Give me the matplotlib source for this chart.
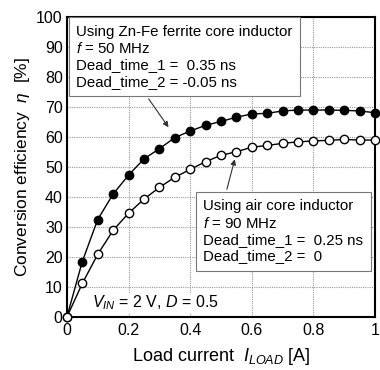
import numpy as np
import matplotlib
matplotlib.use('Agg')
import matplotlib.pyplot as plt

plt.rcParams['font.family'] = ['Liberation Sans', 'DejaVu Sans']
plt.rcParams['mathtext.fontset'] = 'custom'
plt.rcParams['mathtext.rm'] = 'Liberation Sans'
plt.rcParams['mathtext.it'] = 'Liberation Sans:italic'

# load current [A]
load_current = [0.0, 0.05, 0.1, 0.15, 0.2, 0.25, 0.3, 0.35, 0.4, 0.45, 0.5,
                0.55, 0.6, 0.65, 0.7, 0.75, 0.8, 0.85, 0.9, 0.95, 1.0]

# efficiency [%] - Zn-Fe ferrite core, 50 MHz
eff_ferrite = [0.0, 18.5, 32.5, 41.0, 47.3, 52.7, 56.1, 59.8, 62.0, 63.9, 65.2,
               66.6, 67.7, 67.9, 68.7, 69.0, 69.0, 69.0, 68.9, 68.7, 68.1]

# efficiency [%] - air core, 90 MHz
eff_air = [0.0, 11.2, 20.9, 28.9, 34.6, 39.3, 43.2, 46.6, 49.2, 51.8, 53.9,
           55.1, 56.6, 57.2, 57.9, 58.4, 58.7, 58.9, 59.2, 59.0, 59.0]

xticks = [0, 0.2, 0.4, 0.6, 0.8, 1]
xtick_labels = ['0', '0.2', '0.4', '0.6', '0.8', '1']
yticks = list(range(0, 101, 10))

fig = plt.figure(figsize=(3.8, 3.7), dpi=100)
ax = fig.add_axes([0.176, 0.143, 0.811, 0.811])

ax.plot(load_current, eff_ferrite, '-o', color='black', lw=1.0,
        ms=6, mfc='black', mec='black', zorder=3, clip_on=False)
ax.plot(load_current, eff_air, '-o', color='black', lw=1.0,
        ms=6, mfc='white', mec='black', mew=1.0, zorder=3, clip_on=False)

ax.set_xlim(0, 1)
ax.set_ylim(0, 100)
ax.set_xticks(xticks)
ax.set_xticklabels(xtick_labels)
ax.set_yticks(yticks)
ax.tick_params(labelsize=11.5, length=0, pad=4)
ax.tick_params(axis='y', pad=3)
ax.grid(True, color='#999999', ls=(0, (1, 1)), lw=0.8)
ax.set_axisbelow(True)
for s in ax.spines.values():
    s.set_linewidth(1.5)

ax.set_xlabel(r'Load current  $I_{LOAD}$ [A]', fontsize=13, labelpad=6)
ax.set_ylabel(r'Conversion efficiency  $\eta$  [%]', fontsize=12.5, labelpad=3)

box = dict(boxstyle='square,pad=0.5', fc='white', ec='#777777', lw=0.8)
txt1 = ('Using Zn-Fe ferrite core inductor\n$f$ = 50 MHz\n'
        'Dead_time_1 =  0.35 ns\nDead_time_2 = -0.05 ns')
ax.text(0.031, 0.974, txt1, transform=ax.transAxes, fontsize=10.8,
        va='top', ha='left', linespacing=1.2, bbox=box, zorder=5)
ax.annotate('', xy=(0.335, 62.5), xytext=(0.26, 73.5),
            arrowprops=dict(arrowstyle='-|>', color='#333333', lw=0.8,
                            mutation_scale=8), zorder=6)

txt2 = ('Using air core inductor\n$f$ = 90 MHz\n'
        'Dead_time_1 =  0.25 ns\nDead_time_2 =  0')
ax.text(0.442, 0.392, txt2, transform=ax.transAxes, fontsize=10.8,
        va='top', ha='left', linespacing=1.2, bbox=box, zorder=5)
ax.annotate('', xy=(0.547, 53.5), xytext=(0.517, 41.7),
            arrowprops=dict(arrowstyle='-|>', color='#333333', lw=0.8,
                            mutation_scale=8), zorder=6)

ax.text(0.082, 4.8, r'$V_{IN}$ = 2 V, $D$ = 0.5', fontsize=11.5,
        ha='left', va='center', zorder=5,
        bbox=dict(fc='white', ec='none', pad=0.5))

fig.savefig('out.png', dpi=100)
